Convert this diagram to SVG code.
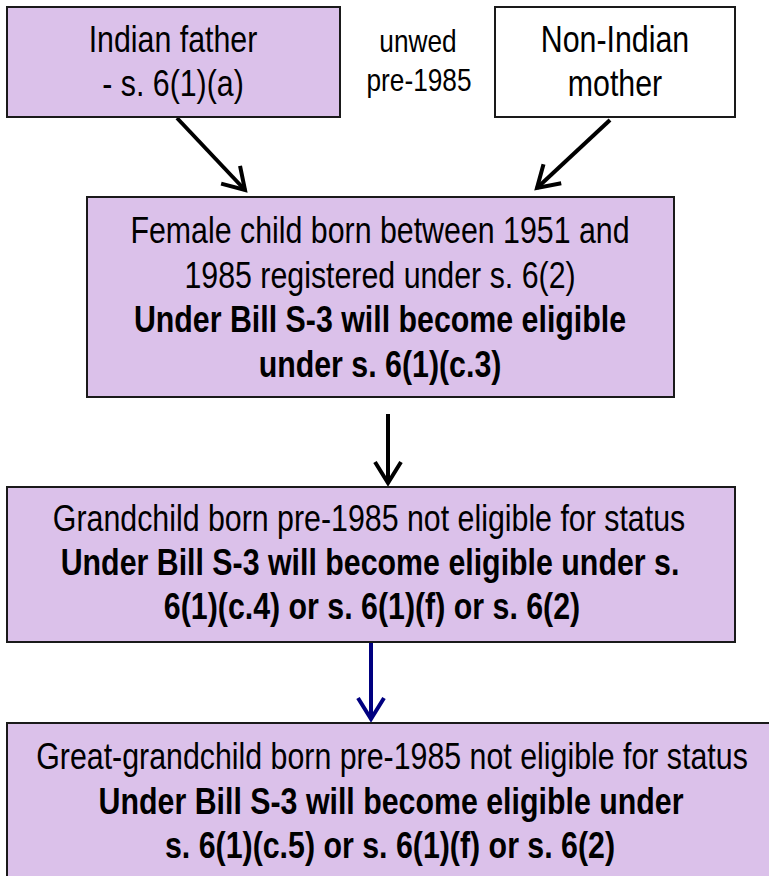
<svg xmlns="http://www.w3.org/2000/svg" width="769" height="876" viewBox="0 0 769 876">
<style>
  .box { fill: #dbc1ea; stroke: #1a1a1a; stroke-width: 2; }
  .wbox { fill: #ffffff; stroke: #1a1a1a; stroke-width: 2; }
  text { font-family: "Liberation Sans Narrow", "Arial Narrow", "Liberation Sans", sans-serif; fill: #000; text-anchor: middle; }
  .t { font-size: 37px; }
  .s { font-size: 32px; }
  .b { font-weight: bold; }
  .arr { fill: none; stroke: #000; stroke-width: 4; }
  .arrn { fill: none; stroke: #000080; stroke-width: 4; }
</style>
<defs>
  <marker id="ah" markerUnits="userSpaceOnUse" markerWidth="40" markerHeight="40" viewBox="-30 -20 40 40" refX="0" refY="0" orient="auto" overflow="visible">
    <path d="M-21,-13 L0,0 L-21,13" fill="none" stroke="#000" stroke-width="4" stroke-linejoin="miter"/>
  </marker>
  <marker id="ahn" markerUnits="userSpaceOnUse" markerWidth="40" markerHeight="40" viewBox="-30 -20 40 40" refX="0" refY="0" orient="auto" overflow="visible">
    <path d="M-21,-13 L0,0 L-21,13" fill="none" stroke="#000080" stroke-width="4" stroke-linejoin="miter"/>
  </marker>
</defs>

<g id="connectors">
  <line class="arr" x1="177" y1="118" x2="245" y2="190" marker-end="url(#ah)"/>
  <line class="arr" x1="610" y1="120" x2="537" y2="188" marker-end="url(#ah)"/>
  <line class="arr" x1="388" y1="414" x2="388" y2="483" marker-end="url(#ah)"/>
  <line class="arrn" x1="371" y1="643" x2="371" y2="719" marker-end="url(#ahn)"/>
</g>

<g id="indian-father">
  <rect class="box" x="7" y="7" width="333" height="110"/>
  <text class="t" transform="translate(173,52) scale(0.82,1)">Indian father</text>
  <text class="t" transform="translate(173,96) scale(0.82,1)">- s. 6(1)(a)</text>
</g>

<g id="unwed-label">
  <text class="s" transform="translate(418,52) scale(0.82,1)">unwed</text>
  <text class="s" transform="translate(419,91) scale(0.82,1)">pre-1985</text>
</g>

<g id="non-indian-mother">
  <rect class="wbox" x="495" y="7" width="240" height="110"/>
  <text class="t" transform="translate(615,52) scale(0.82,1)">Non-Indian</text>
  <text class="t" transform="translate(615,96) scale(0.82,1)">mother</text>
</g>

<g id="female-child">
  <rect class="box" x="87" y="197" width="587" height="200"/>
  <text class="t" transform="translate(380,243) scale(0.82,1)">Female child born between 1951 and</text>
  <text class="t" transform="translate(380,288) scale(0.82,1)">1985 registered under s. 6(2)</text>
  <text class="t b" transform="translate(380,332) scale(0.82,1)">Under Bill S-3 will become eligible</text>
  <text class="t b" transform="translate(380,377) scale(0.82,1)">under s. 6(1)(c.3)</text>
</g>

<g id="grandchild">
  <rect class="box" x="7" y="487" width="728" height="155"/>
  <text class="t" transform="translate(369,531) scale(0.82,1)">Grandchild born pre-1985 not eligible for status</text>
  <text class="t b" transform="translate(370,575) scale(0.82,1)">Under Bill S-3 will become eligible under s.</text>
  <text class="t b" transform="translate(372,619) scale(0.82,1)">6(1)(c.4) or s. 6(1)(f) or s. 6(2)</text>
</g>

<g id="great-grandchild">
  <rect class="box" x="7" y="723" width="775" height="165"/>
  <text class="t" transform="translate(392,769) scale(0.82,1)">Great-grandchild born pre-1985 not eligible for status</text>
  <text class="t b" transform="translate(391,814) scale(0.82,1)">Under Bill S-3 will become eligible under</text>
  <text class="t b" transform="translate(390,858) scale(0.82,1)">s. 6(1)(c.5) or s. 6(1)(f) or s. 6(2)</text>
</g>
</svg>
